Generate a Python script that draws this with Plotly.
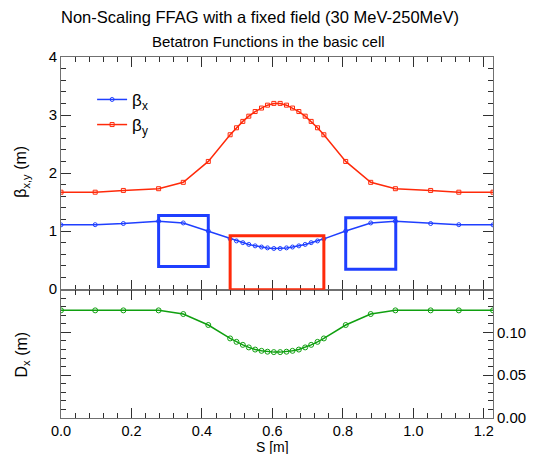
import plotly.graph_objects as go

# ---- data ----
s = [0.0, 0.097, 0.177, 0.277, 0.347, 0.418, 0.480, 0.498, 0.516, 0.533, 0.551,
     0.569, 0.586, 0.604, 0.622, 0.640, 0.657, 0.675, 0.693, 0.710, 0.728, 0.746,
     0.808, 0.879, 0.949, 1.049, 1.129, 1.226]
beta_x = [1.107, 1.11, 1.13, 1.17, 1.14, 1.00, 0.866, 0.83, 0.80, 0.77, 0.745,
          0.725, 0.71, 0.70, 0.70, 0.71, 0.725, 0.745, 0.77, 0.80, 0.83, 0.866,
          1.00, 1.14, 1.17, 1.13, 1.11, 1.107]
beta_y = [1.67, 1.67, 1.70, 1.73, 1.84, 2.20, 2.66, 2.78, 2.89, 2.98, 3.06,
          3.12, 3.17, 3.20, 3.20, 3.17, 3.12, 3.06, 2.98, 2.89, 2.78, 2.66,
          2.20, 1.84, 1.73, 1.70, 1.67, 1.67]
disp_x = [0.1258, 0.1258, 0.1258, 0.1258, 0.1215, 0.1087, 0.093, 0.089, 0.0855,
          0.0825, 0.080, 0.0785, 0.0775, 0.077, 0.077, 0.0775, 0.0785, 0.080,
          0.0825, 0.0855, 0.089, 0.093, 0.1087, 0.1215, 0.1258, 0.1258, 0.1258, 0.1258]

# magnets (boxes): [s_start, s_end, bottom, top]
f_mag1 = [0.277, 0.418, 0.39, 1.27]
f_mag2 = [0.808, 0.950, 0.34, 1.23]
d_mag = [0.480, 0.746, -0.01, 0.92]

x_ticks = [0.0, 0.2, 0.4, 0.6, 0.8, 1.0, 1.2]
s_max = 1.226

BLUE = "#1f3fff"
RED = "#ff2a0a"
GREEN = "#10a010"
AX = "#707070"
TK = "#303030"

fig = go.Figure()
fig.add_trace(go.Scatter(x=s, y=beta_x, mode="lines+markers", name="β<sub>x</sub>",
                         legendgroup="bx",
                         line=dict(color=BLUE, width=1.5),
                         marker=dict(symbol="circle-open", size=4, color=BLUE, line=dict(width=1)),
                         xaxis="x", yaxis="y"))
fig.add_trace(go.Scatter(x=s, y=beta_y, mode="lines+markers", name="β<sub>y</sub>",
                         legendgroup="by",
                         line=dict(color=RED, width=1.5),
                         marker=dict(symbol="square-open", size=4, color=RED, line=dict(width=1)),
                         xaxis="x", yaxis="y"))
fig.add_trace(go.Scatter(x=s, y=disp_x, mode="lines+markers", name="D<sub>x</sub>",
                         showlegend=False,
                         line=dict(color=GREEN, width=1.5),
                         marker=dict(symbol="circle-open", size=5, color=GREEN, line=dict(width=1)),
                         xaxis="x2", yaxis="y2"))

for box, col in [(f_mag1, BLUE), (f_mag2, BLUE), (d_mag, RED)]:
    fig.add_shape(type="rect", xref="x", yref="y", x0=box[0], x1=box[1],
                  y0=box[2], y1=box[3], line=dict(color=col, width=3))

split = 0.3555
common_x = dict(range=[0, s_max], showline=True, linecolor=AX, linewidth=1,
                mirror="ticks", ticks="inside", ticklen=10, tickcolor=TK, tickwidth=1,
                tickvals=x_ticks, showgrid=False, zeroline=False,
                minor=dict(ticks="inside", dtick=0.04, tick0=0, ticklen=5, tickcolor=TK))

fig.update_layout(
    width=531, height=446,
    margin=dict(l=53, r=46, t=49, b=35.5),
    paper_bgcolor="white", plot_bgcolor="white",
    font=dict(family="Liberation Sans, Arial, sans-serif", size=15, color="black"),
    xaxis=dict(anchor="y", showticklabels=False, **common_x),
    xaxis2=dict(anchor="y2", showticklabels=True, tickformat=".1f",
                ticklabelstandoff=0, tickfont=dict(size=14.5), **common_x),
    yaxis=dict(domain=[split, 1], range=[-0.01, 4], tickvals=[0, 1, 2, 3, 4],
               showline=True, linecolor=AX, linewidth=1, mirror="ticks",
               ticks="inside", ticklen=10, tickcolor=TK, showgrid=False, zeroline=False,
               minor=dict(ticks="inside", dtick=0.2, tick0=0, ticklen=5, tickcolor=TK)),
    yaxis2=dict(domain=[0, split], range=[0, 0.15], tickvals=[0.0, 0.05, 0.10],
                tickformat=".2f", side="right",
                showline=True, linecolor=AX, linewidth=1, mirror="ticks",
                ticks="inside", ticklen=10, tickcolor=TK, showgrid=False, zeroline=False,
                minor=dict(ticks="inside", dtick=0.01, tick0=0, ticklen=5, tickcolor=TK)),
    legend=dict(x=0.072, y=0.931, xanchor="left", yanchor="top", bgcolor="rgba(0,0,0,0)",
                font=dict(size=17), itemwidth=30, tracegroupgap=0),
    showlegend=True,
)

fig.add_annotation(text="Non-Scaling FFAG with a fixed field (30 MeV-250MeV)",
                   xref="paper", yref="paper", x=0.46, y=1, yshift=40,
                   showarrow=False, font=dict(size=16.5), xanchor="center", yanchor="middle")
fig.add_annotation(text="Betatron Functions in the basic cell",
                   xref="paper", yref="paper", x=0.481, y=1, yshift=16,
                   showarrow=False, font=dict(size=15), xanchor="center", yanchor="middle")
fig.add_annotation(text="β<sub>x,y</sub> (m)", xref="paper", yref="paper",
                   x=0, xshift=-39, y=0.682, textangle=-90, showarrow=False,
                   font=dict(size=16), xanchor="center", yanchor="middle")
fig.add_annotation(text="D<sub>x</sub> (m)", xref="paper", yref="paper",
                   x=0, xshift=-39, y=0.176, textangle=-90, showarrow=False,
                   font=dict(size=16), xanchor="center", yanchor="middle")
fig.add_annotation(text="S [m]", xref="paper", yref="paper",
                   x=0.49, y=0, yshift=-29, showarrow=False,
                   font=dict(size=14), xanchor="center", yanchor="middle")

fig.write_html("out.html")
